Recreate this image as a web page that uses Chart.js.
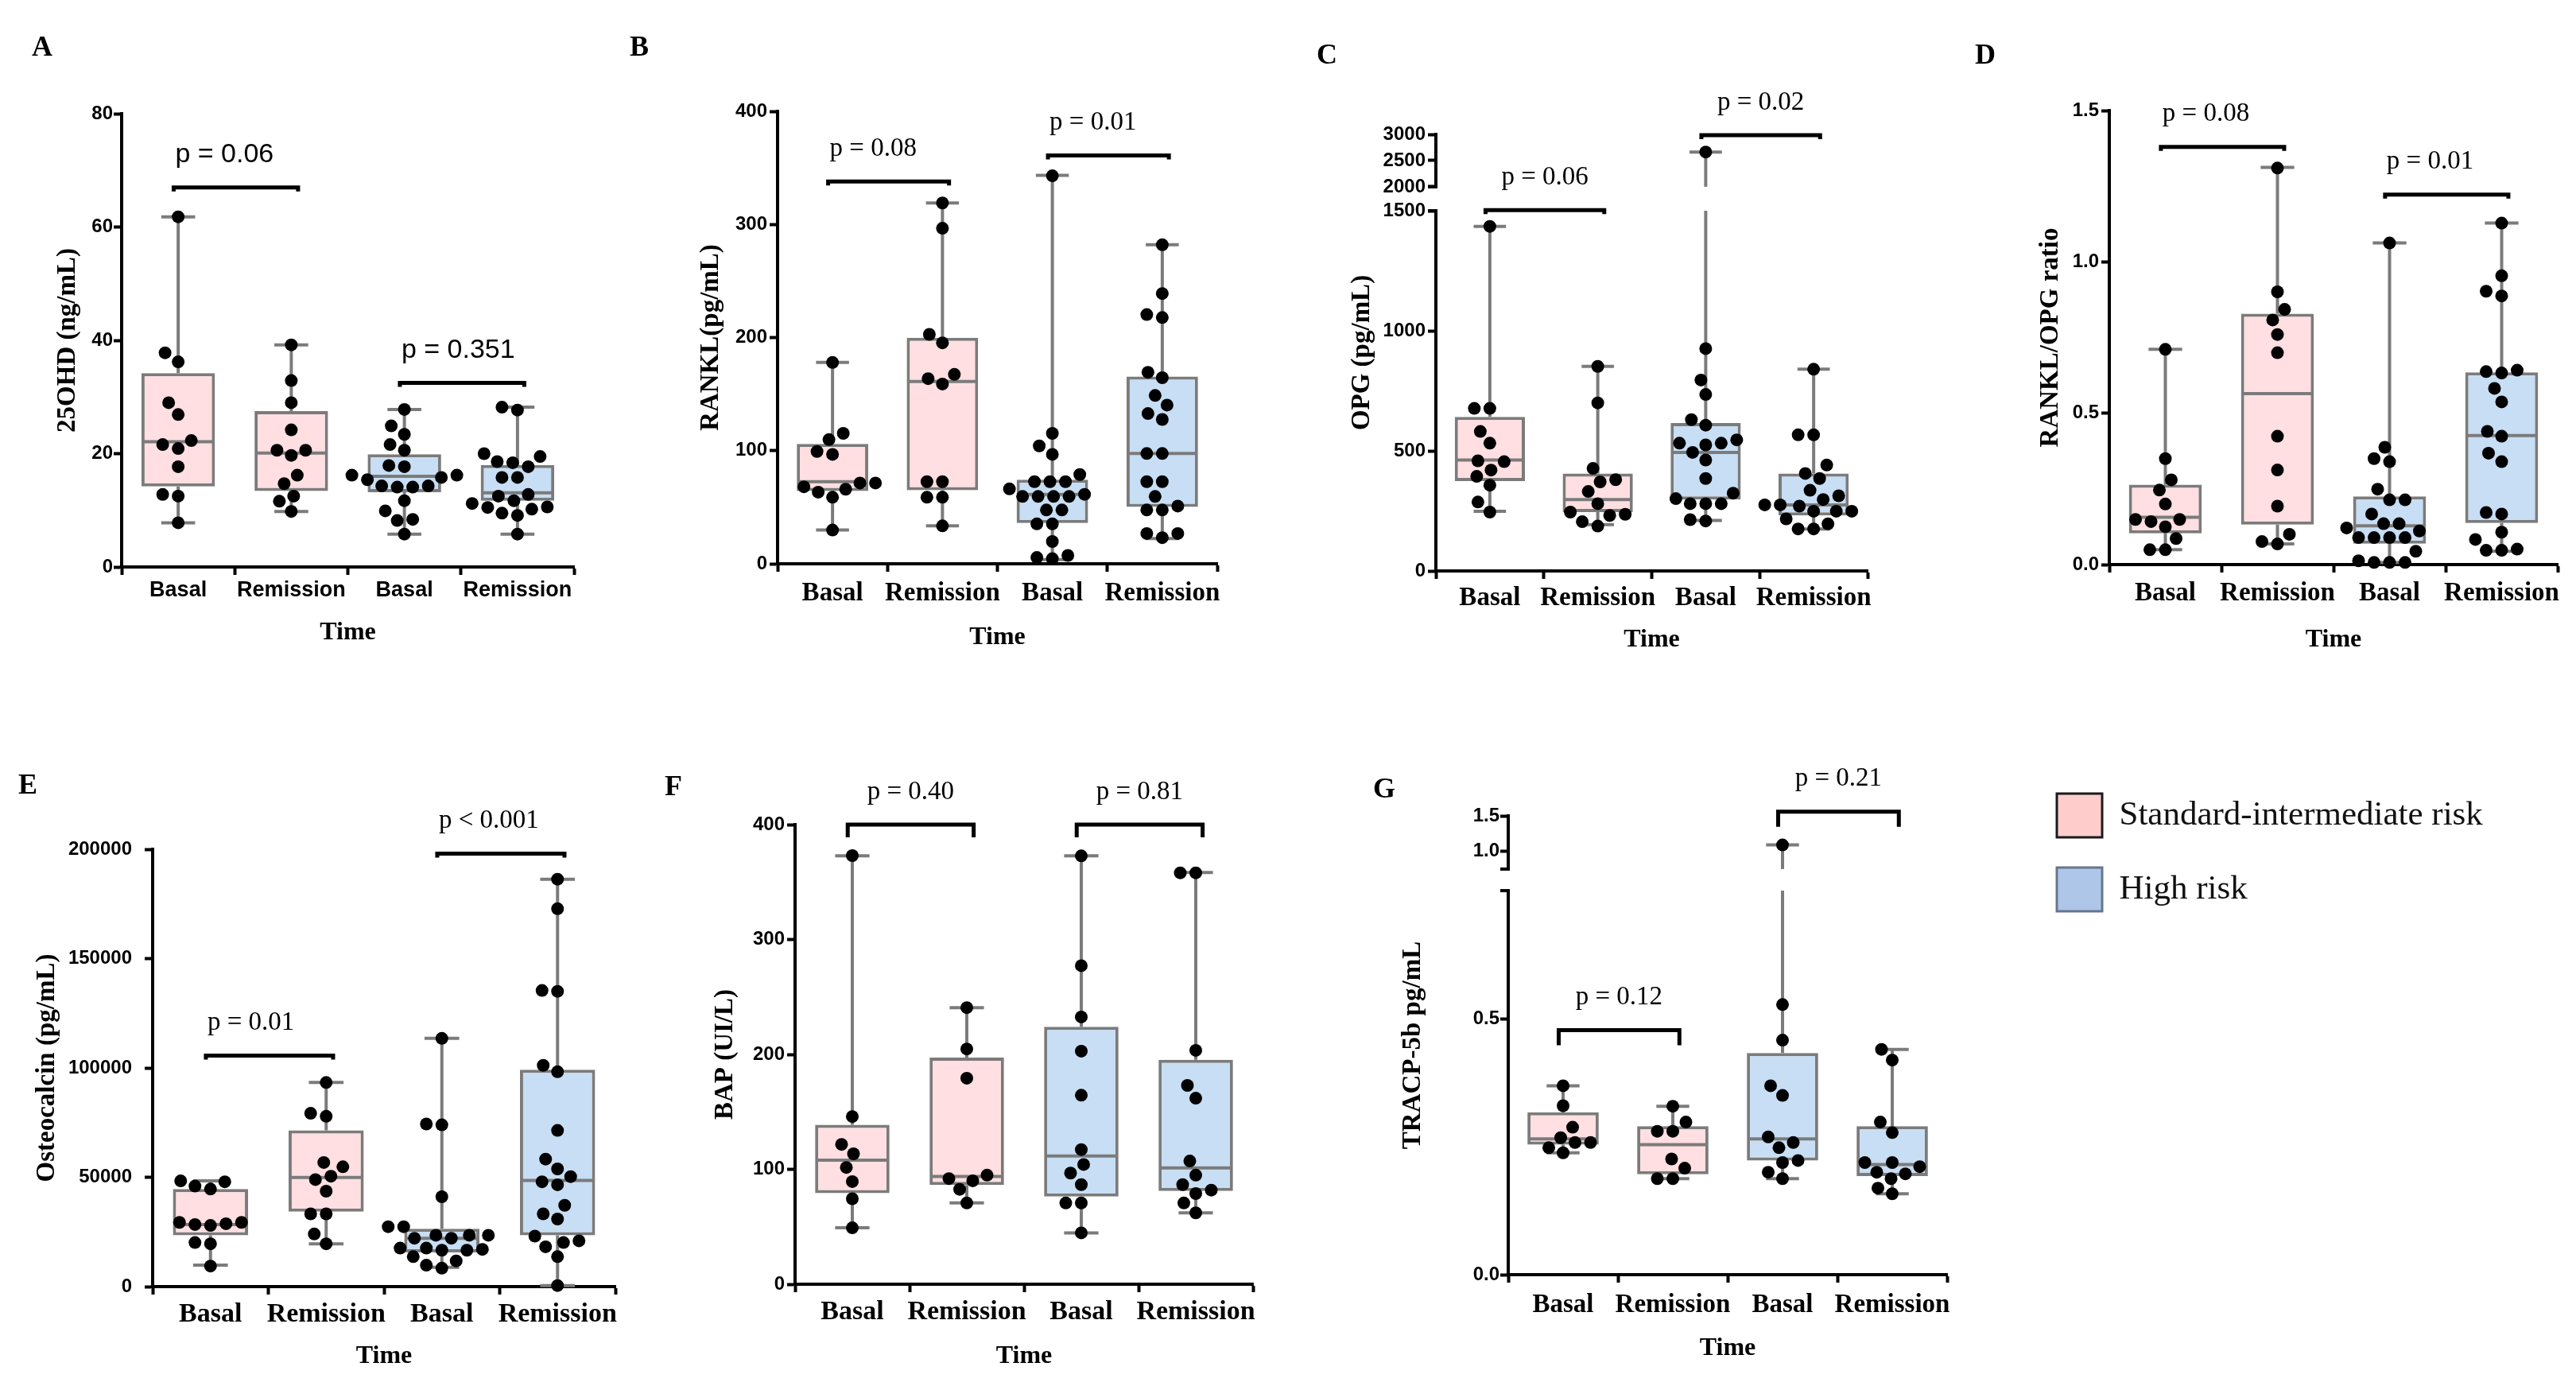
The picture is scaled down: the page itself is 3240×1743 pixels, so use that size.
<!DOCTYPE html>
<html>
<head>
<meta charset="utf-8">
<script src="https://cdn.jsdelivr.net/npm/chart.js@4.4.1/dist/chart.umd.min.js"></script>
<style>
  html, body { margin: 0; padding: 0; background: #ffffff; overflow: hidden; }
  body { width: 3240px; height: 1743px; position: relative; overflow: hidden; }
  canvas { position: absolute; }
</style>
</head>
<body>
<script>
// ---------------- DATA ----------------
const categories = ['Basal', 'Remission', 'Basal', 'Remission'];
const riskGroups = ['Standard-intermediate risk', 'High risk'];

// A: 25OHD (ng/mL)
const aYTicks = [0, 20, 40, 60, 80];
const aSirBasal = [61.8, 37.8, 36.2, 29.0, 26.9, 22.3, 21.6, 20.9, 17.7, 12.8, 12.5, 7.8];
const aSirRemission = [39.2, 32.9, 29.0, 24.2, 20.6, 20.6, 19.7, 16.2, 14.7, 12.5, 11.6, 9.8];
const aHrBasal = [27.8, 24.9, 23.4, 21.6, 20.6, 17.9, 17.7, 16.2, 16.2, 15.8, 15.4, 14.3, 14.3, 14.1, 14.1, 11.7, 9.9, 8.4, 8.2, 5.8];
const aHrRemission = [28.2, 27.7, 20.0, 19.5, 18.6, 18.4, 17.7, 15.8, 15.8, 12.8, 12.5, 11.7, 11.2, 10.6, 10.5, 10.2, 9.5, 9.1, 5.8];
const aBoxes = [[7.8, 14.2, 22.1, 34.2, 61.8], [9.8, 13.4, 20.1, 27.5, 39.2], [5.8, 13.2, 16.0, 19.9, 27.8], [5.8, 11.7, 13.1, 18.0, 28.2]];
const aPValues = ['p = 0.06', 'p = 0.351'];
const aBracketLevels = [67, 32.5];

// B: RANKL (pg/mL)
const bYTicks = [0, 100, 200, 300, 400];
const bSirBasal = [178, 115.3, 109.8, 99.3, 96.7, 71.4, 71.4, 68.1, 65.9, 63.3, 58.8, 29.8];
const bSirRemission = [319, 296.6, 202.8, 195.3, 167.4, 163.7, 158.9, 72.6, 72.6, 58.8, 58.8, 33.5];
const bHrBasal = [343, 115.3, 104.2, 96.7, 78.9, 72.6, 72.6, 72.6, 66.2, 61.4, 59.5, 59.5, 59.5, 59.5, 47.6, 47.6, 35.3, 35.3, 19.7, 7.4, 5.6, 4.5];
const bHrRemission = [282, 238.9, 220.3, 217.7, 169.3, 164.5, 148.8, 140.3, 132.8, 127.6, 97.5, 97.5, 72.6, 72.6, 59.5, 51.0, 47.6, 47.6, 26.8, 26.8, 23.1];
const bBoxes = [[29.8, 64.4, 72.6, 106, 178], [33.5, 65.1, 161.1, 199.8, 319], [3.7, 36.1, 61.4, 74.4, 343.4], [22.3, 50.2, 97.5, 165.6, 282]];
const bPValues = ['p = 0.08', 'p = 0.01'];
const bBracketLevels = [338, 361];

// C: OPG (pg/mL) - broken axis 1500 / 2000
const cYTicks = [0, 500, 1000, 1500, 2000, 2500, 3000];
const cSirBasal = [1435, 677, 677, 581, 532, 458.6, 455, 420, 393.8, 357, 287, 245];
const cSirRemission = [852, 700, 427, 380, 371, 331, 280, 245, 236, 231, 205, 187];
const cHrBasal = [2664, 926, 795, 735, 630, 607, 546, 532, 532, 525, 493.6, 462, 385, 324, 301, 280, 280, 280, 213.6, 208];
const cHrRemission = [840, 567, 567, 441, 406, 385, 336, 313, 297.6, 275, 275, 270, 248.6, 248.6, 248.6, 217, 196, 175, 175];
const cBoxes = [[248.6, 374.6, 462, 642, 1435], [192.5, 245, 297.6, 406, 852], [210, 297.6, 493.6, 616, 2664], [175, 231, 274.8, 406, 840]];
const cPValues = ['p = 0.06', 'p = 0.02'];
const cBracketLevels = [1512, 2984];

// D: RANKL/OPG ratio
const dYTicks = [0, 0.5, 1.0, 1.5];
const dSirBasal = [0.711, 0.35, 0.28, 0.246, 0.2, 0.149, 0.149, 0.142, 0.125, 0.086, 0.049, 0.049];
const dSirRemission = [1.31, 0.901, 0.843, 0.808, 0.76, 0.70, 0.424, 0.3125, 0.193, 0.1, 0.076, 0.068];
const dHrBasal = [1.0625, 0.3875, 0.35, 0.34, 0.249, 0.214, 0.214, 0.167, 0.135, 0.135, 0.121, 0.111, 0.089, 0.089, 0.089, 0.089, 0.044, 0.0125, 0.007, 0.007, 0.007];
const dHrRemission = [1.128, 0.954, 0.903, 0.8875, 0.642, 0.6375, 0.633, 0.582, 0.5375, 0.44, 0.424, 0.368, 0.34, 0.172, 0.167, 0.107, 0.083, 0.051, 0.047, 0.047];
const dBoxes = [[0.049, 0.103, 0.156, 0.264, 0.711], [0.068, 0.132, 0.565, 0.829, 1.3125], [0.007, 0.069, 0.128, 0.225, 1.0625], [0.044, 0.1375, 0.426, 0.635, 1.128]];
const dPValues = ['p = 0.08', 'p = 0.01'];
const dBracketLevels = [1.38, 1.222];

// E: Osteocalcin (pg/mL)
const eYTicks = [0, 50000, 100000, 150000, 200000];
const eSirBasal = [48337, 47945, 45988, 44618, 29354, 29354, 28767, 28376, 27984, 20157, 19569, 9393];
const eSirRemission = [93346, 79256, 77886, 56751, 54795, 50489, 48924, 43640, 33268, 33268, 24070, 19569];
const eHrBasal = [113503, 74364, 73973, 41096, 27397, 27397, 23483, 23483, 23483, 22114, 22114, 17613, 17613, 17025, 16634, 16634, 13699, 11742, 9785, 8415];
const eHrRemission = [186301, 172798, 135421, 135029, 101174, 98239, 71429, 58317, 53816, 50294, 47945, 46575, 37182, 33268, 30920, 23092, 20939, 20157, 18200, 13699, 500];
const eBoxes = [[9785, 23483, 28376, 44618, 48337], [19569, 34247, 49902, 71429, 93346], [8806, 15656, 22114, 26419, 113503], [500, 23483, 48532, 99217, 186301]];
const ePValues = ['p = 0.01', 'p < 0.001'];
const eBracketLevels = [105675, 198043];

// F: BAP (UI/L)
const fYTicks = [0, 100, 200, 300, 400];
const fSirBasal = [373, 145.9, 121.7, 113.5, 101.6, 89.3, 74.4, 49.1];
const fSirRemission = [240.7, 204.7, 179.3, 94.9, 91.9, 90, 82.6, 70.7];
const fHrBasal = [372.8, 277.2, 232.6, 202.8, 164.5, 117.2, 104.2, 96.7, 86.7, 70.7, 70.7, 44.7];
const fHrRemission = [358, 358, 203.5, 173, 161.9, 107.2, 94.9, 86.7, 81.9, 78.9, 70.7, 62.1];
const fBoxes = [[49.1, 79.3, 107.9, 138.8, 372.8], [70.7, 86.3, 93.8, 197.2, 240.7], [44.7, 76.3, 111.6, 224, 372.8], [62.1, 81.1, 101.2, 195.3, 358.3]];
const fPValues = ['p = 0.40', 'p = 0.81'];
const fBracketLevels = [400, 400];

// G: TRACP-5b pg/mL - broken axis at 0.75
const gYTicks = [0, 0.5, 1.0, 1.5];
const gSirBasal = [0.369, 0.33, 0.288, 0.2675, 0.258, 0.258, 0.248, 0.238];
const gSirRemission = [0.329, 0.298, 0.28, 0.28, 0.226, 0.208, 0.1875, 0.1875];
const gHrBasal = [1.09, 0.5275, 0.458, 0.369, 0.35, 0.269, 0.258, 0.248, 0.223, 0.219, 0.2, 0.1875];
const gHrRemission = [0.44, 0.419, 0.298, 0.2775, 0.219, 0.219, 0.211, 0.2, 0.197, 0.1875, 0.169, 0.158];
const gBoxes = [[0.238, 0.254, 0.265, 0.317, 0.369], [0.1875, 0.196, 0.254, 0.29, 0.329], [0.1875, 0.223, 0.265, 0.433, 1.09], [0.158, 0.1925, 0.215, 0.29, 0.44]];
const gPValues = ['p = 0.12', 'p = 0.21'];
const gBracketLevels = [0.4775, 1.56];

// ---------------- STYLE ----------------
const SANS = "'Liberation Sans', Arial, Helvetica, sans-serif";
const SERIF = "'Liberation Serif', 'Times New Roman', Times, serif";
const PINK = '#ffdfe1';
const BLUE = '#c7def4';
const BOX_LINE = '#7b7b7b';

// piecewise mapping for broken axes (value -> decimal of axis length)
function brokenDecimal(v, min, max, br) {
  if (v <= br.low) return (v - min) / (br.low - min) * br.lowFrac;
  const upStart = br.lowFrac + br.gapFrac;
  if (v >= br.high) return upStart + (v - br.high) / (max - br.high) * (1 - upStart);
  return br.lowFrac + (v - br.low) / (br.high - br.low) * br.gapFrac;
}

class BrokenLinearScale extends Chart.LinearScale {
  getPixelForValue(value) {
    const br = this.options.breakAxis;
    if (!br || value === null || value === undefined) return super.getPixelForValue(value);
    return this.getPixelForDecimal(brokenDecimal(value, this.min, this.max, br));
  }
  getValueForPixel(pixel) {
    const br = this.options.breakAxis;
    if (!br) return super.getValueForPixel(pixel);
    const d = this.getDecimalForPixel(pixel);
    const upStart = br.lowFrac + br.gapFrac;
    if (d <= br.lowFrac) return this.min + d / br.lowFrac * (br.low - this.min);
    if (d >= upStart) return br.high + (d - upStart) / (1 - upStart) * (this.max - br.high);
    return br.low + (d - br.lowFrac) / br.gapFrac * (br.high - br.low);
  }
}
BrokenLinearScale.id = 'brokenLinear';
Chart.register(BrokenLinearScale);

// deterministic beeswarm (pixel units) -> offsets
function swarmOffsets(values, toPx, diam) {
  const order = values.map((v, i) => i).sort((a, b) => values[a] - values[b]);
  const placed = [];
  const offs = new Array(values.length).fill(0);
  for (const i of order) {
    const y = toPx(values[i]);
    let best = 0;
    for (let k = 0; k < 400; k++) {
      const cand = (k % 2 === 1 ? -1 : 1) * Math.ceil(k / 2) * 1.5;
      if (placed.every(p => (p.x - cand) ** 2 + (p.y - y) ** 2 >= diam * diam)) { best = cand; break; }
    }
    placed.push({ x: best, y });
    offs[i] = best;
  }
  return offs;
}

const panels = [
  { key: 'A', yTitle: '25OHD (ng/mL)', yTicks: aYTicks, decimals: 0, yMax: 80,
    series: [aSirBasal, aSirRemission, aHrBasal, aHrRemission], boxes: aBoxes,
    pLabels: aPValues, pLevels: aBracketLevels,
    style: { catFamily: SANS, catSize: 27, pFamily: SANS, pSize: 34, pAlign: 'left', leg: 5, yTickPad: 1 },
    layout: { l: 153, t: 143, r: 722, b: 713, letterX: 53, letterY: 61, yTitleX: 85, catY: 743, timeY: 796 } },
  { key: 'B', yTitle: 'RANKL(pg/mL)', yTicks: bYTicks, decimals: 0, yMax: 400,
    series: [bSirBasal, bSirRemission, bHrBasal, bHrRemission], boxes: bBoxes,
    pLabels: bPValues, pLevels: bBracketLevels,
    style: { catFamily: SERIF, catSize: 33, pFamily: SERIF, pSize: 33, pAlign: 'left', leg: 5, yTickPad: 3 },
    layout: { l: 978, t: 140, r: 1531, b: 709, letterX: 804, letterY: 61, yTitleX: 894, catY: 746, timeY: 802 } },
  { key: 'C', yTitle: 'OPG (pg/mL)', yTicks: cYTicks, decimals: 0, yMax: 3000,
    breakAxis: { low: 1500, high: 2000, lowFrac: 0.825, gapFrac: 0.055 },
    series: [cSirBasal, cSirRemission, cHrBasal, cHrRemission], boxes: cBoxes,
    pLabels: cPValues, pLevels: cBracketLevels,
    style: { catFamily: SERIF, catSize: 33, pFamily: SERIF, pSize: 33, pAlign: 'center', leg: 5, yTickPad: 3 },
    layout: { l: 1806, t: 169, r: 2349, b: 718, letterX: 1669, letterY: 71, yTitleX: 1713, catY: 752, timeY: 805 } },
  { key: 'D', yTitle: 'RANKL/OPG ratio', yTicks: dYTicks, decimals: 1, yMax: 1.5,
    series: [dSirBasal, dSirRemission, dHrBasal, dHrRemission], boxes: dBoxes,
    pLabels: dPValues, pLevels: dBracketLevels,
    style: { catFamily: SERIF, catSize: 33, pFamily: SERIF, pSize: 33, pAlign: 'left', leg: 5, yTickPad: 3 },
    layout: { l: 2653, t: 139, r: 3217, b: 710, letterX: 2497, letterY: 71, yTitleX: 2579, catY: 746, timeY: 805 } },
  { key: 'E', yTitle: 'Osteocalcin (pg/mL)', yTicks: eYTicks, decimals: 0, yMax: 200000,
    series: [eSirBasal, eSirRemission, eHrBasal, eHrRemission], boxes: eBoxes,
    pLabels: ePValues, pLevels: eBracketLevels,
    style: { catFamily: SERIF, catSize: 34, pFamily: SERIF, pSize: 33, pAlign: 'left', leg: 5, yTickPad: 16 },
    layout: { l: 192, t: 1068, r: 774, b: 1618, letterX: 35, letterY: 989, yTitleX: 59, catY: 1653, timeY: 1706 } },
  { key: 'F', yTitle: 'BAP (UI/L)', yTicks: fYTicks, decimals: 0, yMax: 400,
    series: [fSirBasal, fSirRemission, fHrBasal, fHrRemission], boxes: fBoxes,
    pLabels: fPValues, pLevels: fBracketLevels,
    style: { catFamily: SERIF, catSize: 34, pFamily: SERIF, pSize: 33, pAlign: 'center', leg: 16, yTickPad: 3 },
    layout: { l: 1000, t: 1037, r: 1576, b: 1615, letterX: 847, letterY: 991, yTitleX: 912, catY: 1650, timeY: 1706 } },
  { key: 'G', yTitle: 'TRACP-5b pg/mL', yTicks: gYTicks, decimals: 1, yMax: 1.5,
    breakAxis: { low: 0.75, high: 0.75, lowFrac: 0.837, gapFrac: 0.047 },
    series: [gSirBasal, gSirRemission, gHrBasal, gHrRemission], boxes: gBoxes,
    pLabels: gPValues, pLevels: gBracketLevels,
    style: { catFamily: SERIF, catSize: 33, pFamily: SERIF, pSize: 33, pAlign: 'center', leg: 19, yTickPad: 1 },
    layout: { l: 1897, t: 1026, r: 2449, b: 1603, letterX: 1741, letterY: 994, yTitleX: 1777, catY: 1641, timeY: 1696 } }
];

function makeCanvas(left, top, w, h) {
  const c = document.createElement('canvas');
  c.width = w; c.height = h;
  c.style.left = left + 'px'; c.style.top = top + 'px';
  c.style.width = w + 'px'; c.style.height = h + 'px';
  document.body.appendChild(c);
  return c;
}

function buildPanel(p) {
  const L = p.layout, S = p.style;
  const cLeft = L.letterX - 30, cTop = L.letterY - 45;
  const cRight = Math.min(L.r + 40, 3238), cBottom = L.timeY + 30;
  const canvas = makeCanvas(cLeft, cTop, cRight - cLeft, cBottom - cTop);

  const tl = 10;
  const catPad = L.catY - L.b - tl - S.catSize * 1.2 / 2;
  const timeSize = 32;
  const timePadBottom = cBottom - L.timeY - timeSize * 1.2 / 2;
  const ySize = 33;
  const yTitlePad = L.yTitleX - cLeft - ySize * 1.2 / 2;

  const areaH = L.b - L.t, catPx = (L.r - L.l) / 4;
  const decOf = v => p.breakAxis ? brokenDecimal(v, 0, p.yMax, p.breakAxis) : v / p.yMax;
  const points = [];
  p.series.forEach((vals, g) => {
    const offs = swarmOffsets(vals, v => decOf(v) * areaH, 19);
    vals.forEach((v, i) => points.push({ x: g + offs[i] / catPx, y: v }));
  });

  const gapOf = (ys) => p.breakAxis ? {
    top: ys.getPixelForDecimal(p.breakAxis.lowFrac + p.breakAxis.gapFrac),
    bottom: ys.getPixelForDecimal(p.breakAxis.lowFrac)
  } : null;

  const decor = {
    id: 'decor' + p.key,
    afterDatasetDraw(chart, args) {
      if (args.index !== 0) return;
      const ctx = chart.ctx, xs = chart.scales.x, ys = chart.scales.y;
      const meta = chart.getDatasetMeta(0);
      const gap = gapOf(ys);
      const vseg = (x, y1, y2) => {
        const segs = (gap && y1 < gap.top && y2 > gap.bottom) ? [[y1, gap.top], [gap.bottom, y2]] : [[y1, y2]];
        segs.forEach(([a, b]) => { ctx.beginPath(); ctx.moveTo(x, a); ctx.lineTo(x, b); ctx.stroke(); });
      };
      const hseg = (x1, x2, y) => { ctx.beginPath(); ctx.moveTo(x1, y); ctx.lineTo(x2, y); ctx.stroke(); };
      ctx.save();
      ctx.strokeStyle = BOX_LINE; ctx.lineWidth = 4; ctx.lineCap = 'butt';
      p.boxes.forEach((b, i) => {
        const cx = xs.getPixelForValue(i);
        const half = meta.data[i].width / 2;
        const cap = catPx * 0.15;
        const [mn, q1, md, q3, mx] = b.map(v => ys.getPixelForValue(v));
        vseg(cx, mx, q3);
        vseg(cx, q1, mn);
        hseg(cx - cap, cx + cap, mx);
        hseg(cx - cap, cx + cap, mn);
        hseg(cx - half + 2, cx + half - 2, md);
      });
      ctx.restore();
    },
    afterDraw(chart) {
      const ctx = chart.ctx, xs = chart.scales.x, ys = chart.scales.y, area = chart.chartArea;
      ctx.save();
      // broken y axis line
      const gap = gapOf(ys);
      if (gap) {
        ctx.strokeStyle = '#000'; ctx.lineWidth = 4;
        const x = area.left;
        ctx.beginPath(); ctx.moveTo(x, area.bottom + 2); ctx.lineTo(x, gap.bottom); ctx.stroke();
        ctx.beginPath(); ctx.moveTo(x, gap.top); ctx.lineTo(x, area.top - 2); ctx.stroke();
        ctx.beginPath(); ctx.moveTo(x - tl, gap.bottom); ctx.lineTo(x + 2, gap.bottom); ctx.stroke();
        ctx.beginPath(); ctx.moveTo(x - tl, gap.top); ctx.lineTo(x + 2, gap.top); ctx.stroke();
      }
      // significance brackets
      ctx.strokeStyle = '#000'; ctx.fillStyle = '#000'; ctx.lineWidth = 5; ctx.lineJoin = 'miter';
      ctx.font = `${S.pSize}px ${S.pFamily}`;
      ctx.textBaseline = 'middle';
      p.pLevels.forEach((lvl, j) => {
        const x1 = xs.getPixelForValue(2 * j) - 0.04 * catPx;
        const x2 = xs.getPixelForValue(2 * j + 1) + 0.06 * catPx;
        const y = ys.getPixelForValue(lvl);
        ctx.beginPath();
        ctx.moveTo(x1, y + S.leg); ctx.lineTo(x1, y); ctx.lineTo(x2, y); ctx.lineTo(x2, y + S.leg);
        ctx.stroke();
        if (S.pAlign === 'left') { ctx.textAlign = 'left'; ctx.fillText(p.pLabels[j], x1 + 2, y - 41); }
        else { ctx.textAlign = 'center'; ctx.fillText(p.pLabels[j], (x1 + x2) / 2, y - 41); }
      });
      // panel letter
      ctx.font = `bold 36px ${SERIF}`;
      ctx.textAlign = 'center'; ctx.textBaseline = 'middle';
      ctx.fillText(p.key, L.letterX - cLeft, L.letterY - cTop);
      ctx.restore();
    }
  };

  const yScale = {
    type: p.breakAxis ? 'brokenLinear' : 'linear',
    min: 0, max: p.yMax,
    afterBuildTicks: s => { s.ticks = p.yTicks.map(v => ({ value: v })); },
    afterFit: s => { s.width = L.l - cLeft; },
    ticks: {
      autoSkip: false, padding: S.yTickPad, color: '#000',
      font: { family: SANS, size: 24, weight: 'bold' },
      callback: v => p.decimals ? Number(v).toFixed(p.decimals) : String(v)
    },
    grid: { display: true, drawOnChartArea: false, drawTicks: true, tickLength: tl, tickWidth: 4, tickColor: '#000' },
    border: { display: !p.breakAxis, color: '#000', width: 4 },
    title: { display: true, text: p.yTitle, color: '#000', font: { family: SERIF, size: ySize, weight: 'bold' }, padding: { top: yTitlePad, bottom: 0 } }
  };
  if (p.breakAxis) yScale.breakAxis = p.breakAxis;

  new Chart(canvas.getContext('2d'), {
    type: 'bar',
    data: {
      datasets: [
        {
          type: 'bar', order: 2,
          data: p.boxes.map((b, i) => ({ x: i, y: [b[1], b[3]] })),
          backgroundColor: [PINK, PINK, BLUE, BLUE],
          borderColor: BOX_LINE, borderWidth: 4, borderSkipped: false,
          barPercentage: 0.65, categoryPercentage: 1
        },
        {
          type: 'scatter', order: 1,
          data: points,
          pointRadius: 8, pointBackgroundColor: '#000', pointBorderWidth: 0,
          showLine: false, clip: false
        }
      ]
    },
    options: {
      responsive: false, animation: false, events: [],
      layout: { padding: { left: 0, top: L.t - cTop, right: cRight - L.r, bottom: 0 } },
      plugins: { legend: { display: false }, tooltip: { enabled: false } },
      scales: {
        x: {
          type: 'linear', min: -0.5, max: 3.5, offset: false,
          afterBuildTicks: s => { s.ticks = categories.map((c, i) => ({ value: i })); },
          afterFit: s => { s.height = cBottom - L.b; },
          ticks: {
            autoSkip: false, maxRotation: 0, minRotation: 0, padding: catPad, color: '#000',
            font: { family: S.catFamily, size: S.catSize, weight: 'bold' },
            callback: v => categories[v]
          },
          grid: { display: true, drawOnChartArea: false, drawTicks: true, tickLength: tl, tickWidth: 4, tickColor: '#000' },
          border: { display: true, color: '#000', width: 4 },
          title: { display: true, text: 'Time', color: '#000', font: { family: SERIF, size: timeSize, weight: 'bold' }, padding: { top: 0, bottom: timePadBottom } }
        },
        y: yScale
      }
    },
    plugins: [decor]
  });
}

panels.forEach(buildPanel);

// ---------------- LEGEND ----------------
(function buildLegend() {
  const canvas = makeCanvas(2549, 960, 1400, 300);
  new Chart(canvas.getContext('2d'), {
    type: 'bar',
    data: {
      labels: [],
      datasets: [
        { label: riskGroups[0], data: [], backgroundColor: '#ffcccc', borderColor: '#1a1a1a', borderWidth: 3 },
        { label: riskGroups[1], data: [], backgroundColor: '#aec6e8', borderColor: '#66768c', borderWidth: 3 }
      ]
    },
    options: {
      responsive: false, animation: false, events: [],
      layout: { padding: 0 },
      scales: { x: { display: false }, y: { display: false } },
      plugins: {
        tooltip: { enabled: false },
        legend: {
          position: 'left', align: 'start',
          labels: { boxWidth: 57, boxHeight: 55, padding: 38, color: '#111', font: { family: SERIF, size: 43 } }
        }
      }
    }
  });
})();
</script>
</body>
</html>
